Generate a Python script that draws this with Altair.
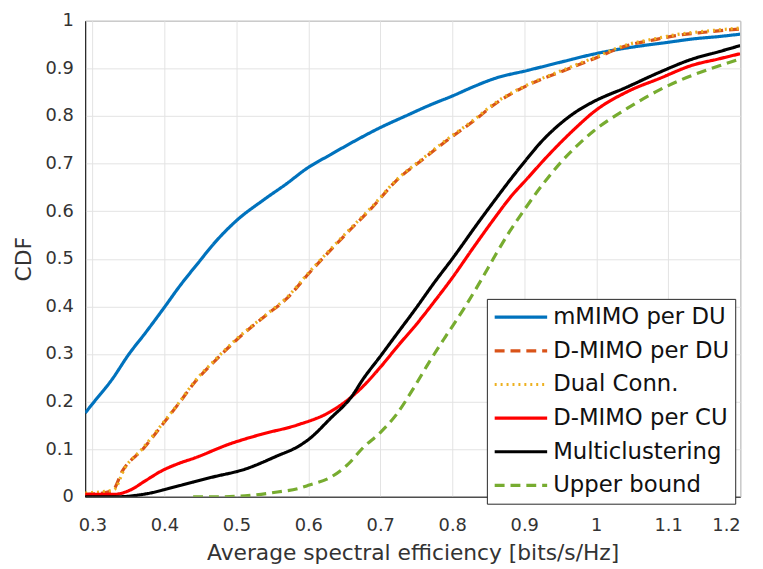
import altair as alt
import pandas as pd

series_names = ["mMIMO per DU", "D-MIMO per DU", "Dual Conn.", "D-MIMO per CU", "Multiclustering", "Upper bound"]
series_colors = ["#0072BD", "#D95319", "#EDB120", "#FF0000", "#000000", "#77AC30"]
series_dash = [[1, 0], [10, 6], [2, 4], [1, 0], [1, 0], [10, 6]]

mmimo_x = [0.29, 0.30, 0.328, 0.35, 0.374, 0.40, 0.42, 0.45, 0.466, 0.50, 0.539, 0.57, 0.598, 0.631, 0.665,
           0.699, 0.735, 0.772, 0.80, 0.83, 0.859, 0.905, 0.95, 0.996, 1.03, 1.065, 1.10, 1.134, 1.17, 1.20]
mmimo_y = [0.176, 0.195, 0.248, 0.298, 0.345, 0.398, 0.44, 0.497, 0.527, 0.58, 0.625, 0.658, 0.69, 0.719, 0.748,
           0.775, 0.80, 0.825, 0.842, 0.862, 0.879, 0.896, 0.913, 0.93, 0.94, 0.948, 0.955, 0.962, 0.967, 0.972]

dmimo_du_x = [0.29, 0.31, 0.328, 0.342, 0.37, 0.397, 0.42, 0.443, 0.47, 0.502, 0.54, 0.571, 0.60, 0.653, 0.69,
              0.722, 0.76, 0.791, 0.83, 0.86, 0.905, 0.951, 0.996, 1.043, 1.08, 1.111, 1.15, 1.20]
dmimo_du_y = [0.005, 0.007, 0.013, 0.055, 0.10, 0.151, 0.196, 0.242, 0.285, 0.332, 0.38, 0.418, 0.468, 0.553, 0.61,
              0.664, 0.71, 0.747, 0.79, 0.826, 0.865, 0.893, 0.920, 0.948, 0.96, 0.969, 0.976, 0.983]

dual_x = [0.29, 0.31, 0.33, 0.345, 0.37, 0.397, 0.42, 0.443, 0.47, 0.502, 0.54, 0.571, 0.60, 0.653, 0.69,
          0.722, 0.76, 0.791, 0.83, 0.86, 0.905, 0.951, 0.996, 1.043, 1.08, 1.111, 1.15, 1.20]
dual_y = [0.008, 0.01, 0.015, 0.06, 0.102, 0.153, 0.197, 0.244, 0.287, 0.334, 0.381, 0.42, 0.47, 0.555, 0.612,
          0.665, 0.712, 0.749, 0.792, 0.828, 0.866, 0.895, 0.922, 0.95, 0.962, 0.971, 0.978, 0.985]

dmimo_cu_x = [0.29, 0.33, 0.351, 0.375, 0.397, 0.42, 0.443, 0.489, 0.534, 0.585, 0.631, 0.66, 0.676, 0.70,
              0.725, 0.75, 0.775, 0.80, 0.83, 0.86, 0.88, 0.905, 0.93, 0.951, 0.975, 0.996, 1.043, 1.088, 1.134,
              1.17, 1.20]
dmimo_cu_y = [0.005, 0.005, 0.013, 0.035, 0.055, 0.07, 0.082, 0.11, 0.131, 0.151, 0.179, 0.21, 0.232, 0.272,
              0.318, 0.362, 0.41, 0.46, 0.525, 0.588, 0.628, 0.67, 0.712, 0.745, 0.78, 0.808, 0.851, 0.879, 0.907,
              0.92, 0.931]

multi_x = [0.29, 0.335, 0.374, 0.42, 0.466, 0.512, 0.557, 0.585, 0.60, 0.631, 0.66, 0.676, 0.70, 0.722, 0.75,
           0.775, 0.80, 0.837, 0.86, 0.88, 0.901, 0.925, 0.951, 0.975, 0.996, 1.043, 1.088, 1.134, 1.17, 1.20]
multi_y = [0.0, 0.0, 0.006, 0.023, 0.041, 0.058, 0.086, 0.105, 0.12, 0.165, 0.21, 0.247, 0.295, 0.34, 0.397,
           0.45, 0.50, 0.578, 0.625, 0.665, 0.705, 0.748, 0.785, 0.812, 0.830, 0.861, 0.892, 0.920, 0.935, 0.948]

upper_x = [0.44, 0.48, 0.512, 0.557, 0.585, 0.60, 0.631, 0.655, 0.676, 0.70, 0.722, 0.745, 0.768, 0.79, 0.814,
           0.84, 0.86, 0.88, 0.901, 0.925, 0.951, 0.975, 0.996, 1.043, 1.088, 1.134, 1.17, 1.20]
upper_y = [0.0, 0.0, 0.002, 0.01, 0.017, 0.024, 0.041, 0.068, 0.103, 0.135, 0.172, 0.225, 0.283, 0.335, 0.39,
           0.455, 0.508, 0.558, 0.605, 0.655, 0.703, 0.74, 0.768, 0.816, 0.855, 0.886, 0.905, 0.920]

x_ticks = [0.3, 0.4, 0.5, 0.6, 0.7, 0.8, 0.9, 1.0, 1.1, 1.2]
y_ticks = [0, 0.1, 0.2, 0.3, 0.4, 0.5, 0.6, 0.7, 0.8, 0.9, 1.0]

all_x = [mmimo_x, dmimo_du_x, dual_x, dmimo_cu_x, multi_x, upper_x]
all_y = [mmimo_y, dmimo_du_y, dual_y, dmimo_cu_y, multi_y, upper_y]

rows = []
for name, xs, ys in zip(series_names, all_x, all_y):
    for i, (xv, yv) in enumerate(zip(xs, ys)):
        rows.append({"series": name, "x": xv, "y": yv, "i": i})
df = pd.DataFrame(rows)

FONT = "DejaVu Sans"
TXT = "#333333"

chart = alt.Chart(df).mark_line(strokeWidth=3.2, clip=True, interpolate="monotone").encode(
    x=alt.X("x:Q", scale=alt.Scale(domain=[0.29, 1.2], nice=False, zero=False),
            axis=alt.Axis(values=x_ticks, format="~g", title="Average spectral efficiency [bits/s/Hz]")),
    y=alt.Y("y:Q", scale=alt.Scale(domain=[0, 1], nice=False),
            axis=alt.Axis(values=y_ticks, format="~g", title="CDF")),
    color=alt.Color("series:N", scale=alt.Scale(domain=series_names, range=series_colors),
                    sort=series_names, legend=alt.Legend(title=None)),
    strokeDash=alt.StrokeDash("series:N", scale=alt.Scale(domain=series_names, range=series_dash),
                              sort=series_names, legend=alt.Legend(title=None)),
    order="i:Q",
).properties(
    width=662, height=481,
    autosize=alt.AutoSizeParams(type="none"),
    padding={"left": 78, "top": 10, "right": 15, "bottom": 70},
).configure_view(
    stroke="#262626", strokeWidth=1
).configure_axis(
    labelFont=FONT, titleFont=FONT, labelFontSize=18, titleFontSize=22,
    labelColor=TXT, titleColor=TXT, titleFontWeight="normal",
    gridColor="#e3e3e3", gridWidth=1, domainColor="#262626", ticks=False,
).configure_axisX(
    labelPadding=20, titlePadding=8,
).configure_axisY(
    labelPadding=12, titlePadding=10,
).configure_legend(
    orient="none", legendX=406, legendY=281,
    strokeColor="#262626", fillColor="white", padding=6,
    labelFont=FONT, labelFontSize=23, labelColor="#111111", labelOffset=36, labelLimit=0,
    symbolType="M-1,0H4", symbolSize=450, symbolStrokeWidth=3.2, rowPadding=9,
    symbolLimit=0,
)

chart.save("out.html", embed_options={"renderer": "svg", "actions": False})
